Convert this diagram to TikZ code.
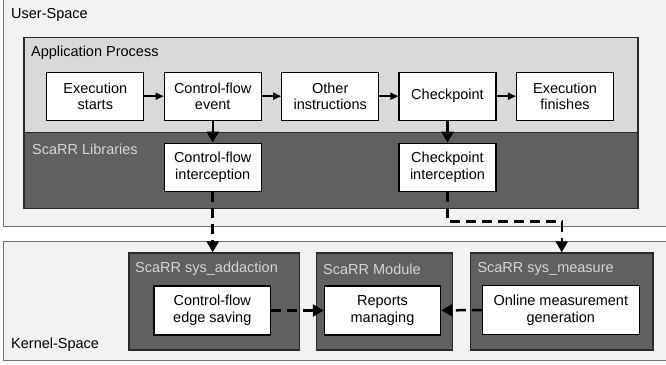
\documentclass[tikz,border=0pt]{standalone}
\usepackage{fontspec}
\setmainfont{Liberation Sans}
\usetikzlibrary{arrows.meta,calc}
\definecolor{outerfill}{HTML}{F2F2F2}
\definecolor{outerline}{HTML}{707070}
\definecolor{procfill}{HTML}{D9D9D9}
\definecolor{darkfill}{HTML}{606060}
\definecolor{darkline}{HTML}{2A2A2A}
\definecolor{lighttext}{HTML}{D6D6D6}
\tikzset{
  outerbox/.style={draw=outerline, fill=outerfill, line width=1.2pt},
  procbox/.style={draw=darkline, fill=procfill, line width=1.2pt},
  darkbox/.style={draw=darkline, fill=darkfill, line width=1.2pt},
  area/.style={rectangle, inner sep=0pt, anchor=north west},
  stepbox/.style={rectangle, draw=black, fill=white, line width=1.1pt, inner sep=0pt,
    minimum width=97pt, minimum height=48pt, align=center},
  lbl/.style={anchor=west, inner sep=0pt},
  dlbl/.style={anchor=west, inner sep=0pt, text=lighttext},
  flow/.style={-{Triangle[length=8pt,width=7pt]}, line width=1.6pt},
  downarr/.style={-{Triangle[length=11pt,width=12pt]}, line width=2.4pt},
  dasharr/.style={-{Triangle[length=11pt,width=12pt]}, line width=2.5pt, dash pattern=on 10pt off 6pt},
}
\begin{document}
\begin{tikzpicture}[x=1pt,y=-1pt,font=\fontsize{14.5}{16.7}\selectfont]
\useasboundingbox (0,0) rectangle (666,364);
\fill[white] (0,0) rectangle (666,364);
% outer areas
\node[area, outerbox, minimum width=670pt, minimum height=230pt] (user) at (3,-4) {};
\node[area, outerbox, minimum width=670pt, minimum height=119.5pt] (kernel) at (3,240.5) {};
\node[lbl] (userlbl) at (11,15) {User-Space};
\node[lbl] (kernellbl) at (11,345) {Kernel-Space};
% application process & libraries
\node[area, procbox, minimum width=614pt, minimum height=95.5pt] (app) at (23.3,36.7) {};
\node[area, darkbox, minimum width=614pt, minimum height=75.5pt] (lib) at (23.3,132.2) {};
\node[lbl] (applbl) at (31,53) {Application Process};
\node[dlbl] (liblbl) at (32,149) {ScaRR Libraries};
% kernel boxes
\node[area, darkbox, minimum width=170.7pt, minimum height=97pt] (sa) at (128.3,252.3) {};
\node[area, darkbox, minimum width=135.7pt, minimum height=97pt] (mod) at (316,252.3) {};
\node[area, darkbox, minimum width=182.3pt, minimum height=97pt] (sm) at (470,252.3) {};
\node[dlbl] (salbl) at (135,269) {ScaRR sys\_addaction};
\node[dlbl] (modlbl) at (323,269) {ScaRR Module};
\node[dlbl] (smlbl) at (477.3,269) {ScaRR sys\_measure};
% process steps
\node[stepbox] (es) at (95.3,96.2) {Execution\\starts};
\node[stepbox] (cf) at (212.7,96.2) {Control-flow\\event};
\node[stepbox] (oi) at (330.2,96.2) {Other\\instructions};
\node[stepbox] (ck) at (447.5,96.2) {Checkpoint};
\node[stepbox] (ef) at (565,96.2) {Execution\\finishes};
\node[stepbox] (cfi) at (212.7,167.2) {Control-flow\\interception};
\node[stepbox] (cki) at (447.5,167.2) {Checkpoint\\interception};
\node[stepbox, minimum width=116.7pt, minimum height=49pt] (edge) at (212.3,310.5) {Control-flow\\edge saving};
\node[stepbox, minimum width=116.4pt, minimum height=49pt] (rm) at (382.5,310.5) {Reports\\managing};
\node[stepbox, minimum width=157pt, minimum height=48.3pt] (om) at (560.8,309.9) {Online measurement\\generation};
% connectors
\draw[flow] (es) -- (cf);
\draw[flow] (cf) -- (oi);
\draw[flow] (oi) -- (ck);
\draw[flow] (ck) -- (ef);
\draw[downarr] (cf) -- (cfi);
\draw[downarr] (ck) -- (cki);
\coordinate (bend) at (0,221.7);
\draw[dasharr] (cfi.south) -- (cfi.south |- sa.north);
\draw[dasharr] (cki.south) -- (cki.south |- bend) -| (sm.north);
\draw[dasharr] (edge) -- (rm);
\draw[dasharr] (om) -- (rm);
\end{tikzpicture}
\end{document}
